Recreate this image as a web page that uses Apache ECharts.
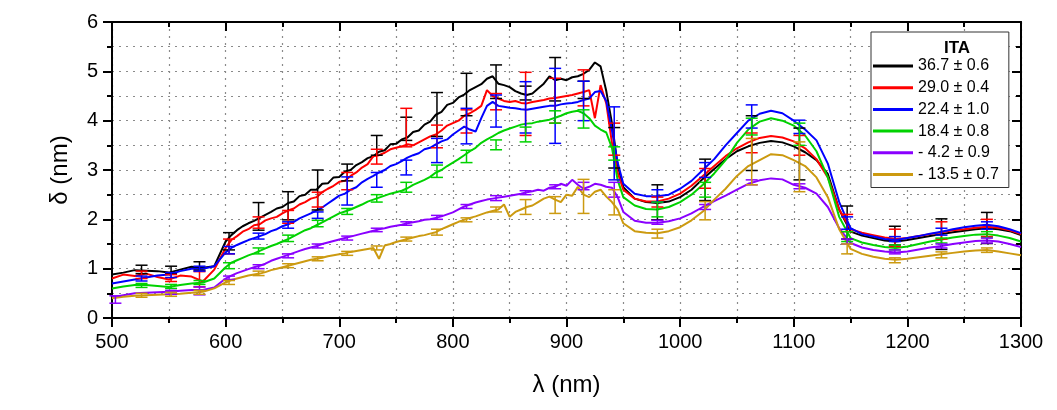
<!DOCTYPE html>
<html><head><meta charset="utf-8">
<script src="https://cdn.jsdelivr.net/npm/echarts@6/dist/echarts.min.js"></script>
<style>html,body{margin:0;padding:0;background:#fff}#c{width:1057px;height:410px}</style>
</head><body><div id="c"></div>
<script>
const wavelengths = [500,510,520,530,540,550,560,570,580,590,
600,605,610,615,620,625,630,635,640,645,650,
655,660,665,670,675,680,685,690,695,700,
705,710,715,720,725,730,735,740,745,750,
755,760,765,770,775,780,785,790,795,800,
805,810,815,820,825,830,835,840,845,850,
855,860,865,870,875,880,885,890,895,900,
905,910,915,920,925,930,935,940,945,950,
960,970,980,990,1000,1010,1020,1030,1040,1050,
1060,1070,1080,1090,1100,1110,1120,1130,1140,1150,
1160,1170,1180,1190,1200,1210,1220,1230,1240,1250,
1260,1270,1280,1290,1300];

const ita367 = [0.88,0.92,0.97,0.96,0.95,0.92,0.98,1.04,1.02,1.05,
1.55,1.68,1.78,1.86,1.92,1.97,2.03,2.09,2.15,2.22,2.25,
2.33,2.36,2.47,2.5,2.6,2.6,2.72,2.73,2.85,2.86,
2.97,3.0,3.1,3.16,3.24,3.28,3.37,3.4,3.52,3.53,
3.62,3.66,3.77,3.8,3.92,3.98,4.12,4.18,4.32,4.36,
4.47,4.53,4.62,4.68,4.74,4.85,4.9,4.75,4.72,4.68,
4.6,4.55,4.52,4.55,4.65,4.75,4.9,4.82,4.85,4.82,
4.88,4.9,4.95,5.03,5.18,5.1,4.6,3.95,3.1,2.65,
2.42,2.35,2.33,2.36,2.45,2.6,2.82,3.02,3.22,3.38,
3.48,3.55,3.59,3.56,3.48,3.36,3.2,2.92,2.2,1.75,
1.67,1.62,1.57,1.55,1.58,1.62,1.66,1.7,1.74,1.77,
1.8,1.82,1.8,1.76,1.68];

const ita290 = [0.8,0.88,0.85,0.9,0.83,0.78,0.86,0.84,0.74,0.98,
1.42,1.58,1.66,1.75,1.8,1.88,1.9,1.98,2.02,2.05,2.12,
2.18,2.22,2.3,2.35,2.42,2.45,2.55,2.62,2.68,2.76,
2.78,2.88,2.95,3.05,3.12,3.28,3.3,3.35,3.42,3.45,
3.48,3.52,3.5,3.56,3.62,3.68,3.72,3.8,3.9,3.95,
4.0,4.1,4.15,4.22,4.3,4.62,4.5,4.45,4.4,4.38,
4.4,4.36,4.35,4.38,4.4,4.42,4.45,4.46,4.48,4.5,
4.52,4.55,4.58,4.62,4.05,4.72,4.35,3.55,2.95,2.6,
2.42,2.36,2.36,2.42,2.52,2.68,2.88,3.08,3.28,3.44,
3.56,3.65,3.69,3.66,3.58,3.44,3.22,2.85,2.2,1.8,
1.73,1.68,1.63,1.6,1.62,1.66,1.7,1.74,1.78,1.8,
1.83,1.85,1.83,1.78,1.7];

const ita224 = [0.7,0.74,0.78,0.82,0.86,0.88,0.95,1.0,1.0,1.05,
1.33,1.42,1.48,1.53,1.58,1.62,1.66,1.7,1.76,1.8,1.86,
1.9,1.95,2.02,2.07,2.12,2.18,2.24,2.32,2.4,2.48,
2.52,2.6,2.65,2.75,2.82,2.88,2.95,3.0,3.08,3.12,
3.18,3.25,3.3,3.34,3.42,3.45,3.52,3.58,3.62,3.72,
3.8,3.88,3.82,3.78,4.05,4.3,4.38,4.3,4.28,4.26,
4.25,4.23,4.22,4.24,4.26,4.28,4.3,4.3,4.33,4.35,
4.36,4.38,4.42,4.45,4.58,4.6,4.4,3.8,3.15,2.72,
2.52,2.47,2.47,2.5,2.62,2.78,3.0,3.22,3.5,3.75,
4.0,4.14,4.2,4.15,4.0,3.82,3.6,3.13,2.35,1.82,
1.7,1.65,1.6,1.58,1.62,1.66,1.71,1.75,1.8,1.84,
1.87,1.89,1.86,1.8,1.72];

const ita184 = [0.6,0.64,0.67,0.67,0.65,0.63,0.67,0.7,0.72,0.8,
1.03,1.12,1.17,1.22,1.27,1.31,1.36,1.41,1.46,1.5,1.55,
1.6,1.66,1.72,1.78,1.82,1.88,1.94,2.0,2.06,2.12,
2.16,2.2,2.25,2.3,2.36,2.4,2.44,2.48,2.52,2.55,
2.58,2.63,2.7,2.75,2.8,2.86,2.95,3.0,3.08,3.15,
3.22,3.3,3.38,3.45,3.55,3.62,3.68,3.75,3.8,3.84,
3.88,3.92,3.94,3.95,3.98,4.0,4.02,4.06,4.1,4.15,
4.18,4.2,4.15,4.05,3.9,3.82,3.76,3.45,2.8,2.45,
2.28,2.21,2.2,2.25,2.35,2.5,2.7,2.93,3.2,3.55,
3.82,3.98,4.05,4.0,3.9,3.7,3.38,2.85,2.05,1.62,
1.53,1.48,1.44,1.42,1.45,1.5,1.55,1.59,1.63,1.66,
1.69,1.7,1.67,1.62,1.55];

const itaM42 = [0.42,0.46,0.5,0.51,0.52,0.53,0.55,0.57,0.57,0.62,
0.8,0.86,0.91,0.95,0.99,1.03,1.06,1.1,1.16,1.2,1.24,
1.28,1.32,1.36,1.4,1.43,1.46,1.5,1.53,1.56,1.59,
1.62,1.65,1.68,1.71,1.74,1.77,1.8,1.82,1.85,1.87,
1.89,1.92,1.94,1.96,1.99,2.0,2.03,2.06,2.1,2.14,
2.2,2.26,2.3,2.34,2.37,2.4,2.42,2.44,2.46,2.48,
2.5,2.52,2.55,2.57,2.6,2.58,2.64,2.66,2.72,2.68,
2.8,2.7,2.62,2.66,2.72,2.7,2.66,2.64,2.45,2.15,
1.97,1.93,1.93,1.96,2.02,2.12,2.25,2.37,2.48,2.6,
2.72,2.79,2.83,2.81,2.7,2.64,2.52,2.25,1.82,1.52,
1.43,1.38,1.35,1.33,1.35,1.39,1.43,1.46,1.5,1.53,
1.56,1.57,1.55,1.5,1.44];

const itaM135 = [0.4,0.43,0.45,0.46,0.47,0.48,0.49,0.51,0.53,0.6,
0.72,0.77,0.8,0.83,0.86,0.88,0.9,0.93,0.97,1.0,1.03,
1.06,1.09,1.12,1.15,1.18,1.2,1.22,1.25,1.27,1.29,
1.31,1.34,1.36,1.38,1.4,1.42,1.2,1.47,1.5,1.54,
1.57,1.6,1.63,1.66,1.68,1.71,1.74,1.8,1.85,1.9,
1.95,1.99,2.03,2.06,2.1,2.14,2.17,2.2,2.3,2.05,
2.15,2.2,2.25,2.28,2.35,2.42,2.46,2.4,2.35,2.5,
2.48,2.66,2.5,2.45,2.56,2.6,2.46,2.35,2.2,1.92,
1.76,1.73,1.72,1.76,1.84,1.98,2.16,2.4,2.62,2.88,
3.08,3.2,3.32,3.3,3.2,3.08,2.85,2.45,1.8,1.4,
1.3,1.24,1.2,1.18,1.2,1.23,1.26,1.29,1.32,1.35,
1.37,1.38,1.35,1.31,1.27];

// error bars: [wavelength, low, high]
const err367 = [[526,0.90,1.07],[552,0.90,1.05],[577,0.97,1.14],[603,1.38,1.73],[629,1.78,2.34],[655,1.99,2.56],[681,2.19,3.0],[707,2.78,3.12],[733,3.3,3.7],[759,3.6,4.07],[786,3.68,4.57],[812,4.1,4.96],[838,4.45,5.13],[864,4.42,4.7],[890,4.4,5.28],[915,4.45,4.8],[942,3.04,3.86],[980,1.99,2.7],[1022,2.38,3.22],[1063,2.99,4.1],[1105,2.8,3.85],[1147,1.6,2.27],[1189,1.48,1.86],[1230,1.39,2.01],[1270,1.51,2.14]];
const err290 = [[526,0.8,0.95],[552,0.74,0.88],[577,0.63,0.94],[603,1.3,1.6],[629,1.82,2.05],[655,1.92,2.18],[681,2.25,2.55],[707,2.6,2.95],[733,3.12,3.42],[759,3.47,4.25],[786,3.45,3.91],[812,3.75,4.22],[838,4.22,4.55],[864,3.7,4.98],[890,3.95,4.86],[915,4.3,5.03],[942,3.3,3.95],[980,2.25,2.45],[1022,2.63,3.03],[1063,3.35,3.75],[1105,3.3,3.7],[1147,1.75,2.1],[1189,1.45,1.8],[1230,1.6,1.95],[1270,1.65,2.0]];
const err224 = [[526,0.75,0.85],[552,0.82,0.92],[577,0.95,1.05],[603,1.3,1.45],[629,1.6,1.72],[655,1.82,1.95],[681,2.02,2.15],[707,2.29,2.86],[733,2.65,2.95],[759,2.9,3.2],[786,3.15,3.64],[812,3.53,4.25],[838,3.87,4.52],[864,3.75,4.79],[890,3.54,5.06],[915,4.0,4.8],[942,2.8,4.28],[980,2.35,2.6],[1022,2.85,3.15],[1063,3.85,4.32],[1105,3.74,4.01],[1147,1.8,2.05],[1189,1.55,1.65],[1230,1.68,1.82],[1270,1.8,1.95]];
const err184 = [[526,0.62,0.7],[552,0.6,0.68],[577,0.68,0.76],[603,1.0,1.12],[629,1.3,1.42],[655,1.55,1.68],[681,1.85,1.98],[707,2.1,2.22],[733,2.35,2.5],[759,2.55,2.75],[786,2.85,3.1],[812,3.15,3.4],[838,3.41,3.61],[864,3.57,3.87],[890,3.95,4.2],[915,3.85,4.22],[942,3.2,3.47],[980,2.05,2.35],[1022,2.45,2.75],[1063,3.71,4.05],[1105,3.5,3.95],[1147,1.55,1.75],[1189,1.38,1.48],[1230,1.52,1.62],[1270,1.63,1.75]];
const errM42 = [[503,0.3,0.45],[552,0.48,0.56],[577,0.47,0.63],[603,0.78,0.85],[629,1.0,1.08],[655,1.22,1.3],[681,1.42,1.5],[707,1.58,1.66],[733,1.75,1.82],[759,1.88,1.95],[786,2.0,2.08],[812,2.22,2.3],[838,2.38,2.48],[864,2.5,2.58],[890,2.62,2.7],[915,2.6,2.75],[942,2.45,2.75],[980,1.9,1.98],[1022,2.2,2.3],[1063,2.7,2.8],[1105,2.62,2.72],[1147,1.5,1.6],[1189,1.3,1.38],[1230,1.42,1.5],[1270,1.52,1.62]];
const errM135 = [[526,0.42,0.5],[552,0.44,0.52],[577,0.48,0.56],[603,0.68,0.76],[629,0.86,0.95],[655,1.02,1.1],[681,1.16,1.24],[707,1.27,1.35],[733,1.38,1.46],[759,1.56,1.64],[786,1.68,1.8],[812,1.95,2.03],[838,2.15,2.25],[864,2.1,2.4],[890,2.12,2.46],[915,2.12,2.81],[942,2.09,2.6],[980,1.62,1.8],[1022,1.99,2.36],[1063,2.7,3.64],[1105,2.56,3.57],[1147,1.3,1.5],[1189,1.12,1.22],[1230,1.22,1.34],[1270,1.33,1.42]];

const seriesNames = ['36.7 \u00b1 0.6','29.0 \u00b1 0.4','22.4 \u00b1 1.0','18.4 \u00b1 0.8','- 4.2 \u00b1 0.9','- 13.5 \u00b1 0.7'];
const seriesColors = ['#000000','#ff0000','#0000ff','#00d200','#8a00ff','#cc9a10'];
const seriesValues = [ita367, ita290, ita224, ita184, itaM42, itaM135];
const seriesErrors = [err367, err290, err224, err184, errM42, errM135];

const FONT = 'Liberation Sans, Arial, sans-serif';
const chart = echarts.init(document.getElementById('c'), null, {renderer:'canvas'});

function errRender(params, api) {
  const x = api.value(0), lo = api.value(1), hi = api.value(2);
  const pLo = api.coord([x, lo]), pHi = api.coord([x, hi]);
  const hw = 6;
  const style = {stroke: api.visual('color'), lineWidth: 1.5, fill: null};
  return {type:'group', children:[
    {type:'line', shape:{x1:pLo[0],y1:pLo[1],x2:pHi[0],y2:pHi[1]}, style: style},
    {type:'line', shape:{x1:pLo[0]-hw,y1:pLo[1],x2:pLo[0]+hw,y2:pLo[1]}, style: style},
    {type:'line', shape:{x1:pHi[0]-hw,y1:pHi[1],x2:pHi[0]+hw,y2:pHi[1]}, style: style}
  ]};
}

const series = [];
seriesNames.forEach(function(name, i){
  series.push({
    name: name, type:'line', xAxisIndex:0, yAxisIndex:0,
    data: wavelengths.map(function(w, k){ return [w, seriesValues[i][k]]; }),
    showSymbol:false, symbol:'none', lineStyle:{color: seriesColors[i], width:2},
    itemStyle:{color: seriesColors[i]}, z: 3, animation:false
  });
});
seriesNames.forEach(function(name, i){
  series.push({
    name: name, type:'custom', xAxisIndex:0, yAxisIndex:0,
    data: seriesErrors[i], encode:{x:0, y:[1,2]},
    renderItem: errRender, itemStyle:{color: seriesColors[i]}, z: 4, animation:false
  });
});

const axisLineStyle = {color:'#000', width:2};
const gridStyle = {color:'#8a8a8a', width:1.2, type:[2,5]};
const plainNum = function(v){ return String(v); };

chart.setOption({
  animation:false,
  backgroundColor:'#fff',
  grid:{left:112, right:36, top:22, bottom:92},
  title:{text:'ITA', left:952, top:35, textAlign:'center',
    textStyle:{fontFamily:FONT, fontSize:17, fontWeight:'bold', color:'#000'}},
  legend:{data: seriesNames, orient:'vertical', left:871, top:32,
    itemWidth:40, itemHeight:3, icon:'rect', itemGap:5.7,
    padding:[26,10,5,2], backgroundColor:'#fff', borderColor:'#333', borderWidth:1,
    selectedMode:false,
    textStyle:{fontFamily:FONT, fontSize:16, lineHeight:16, color:'#000'}},
  xAxis:[
    {type:'value', min:500, max:1300, interval:100, position:'bottom',
     axisLine:{show:true, onZero:false, lineStyle:axisLineStyle},
     axisTick:{show:true, inside:false, length:9, lineStyle:axisLineStyle},
     minorTick:{show:true, splitNumber:2, length:5, lineStyle:axisLineStyle},
     axisLabel:{fontFamily:FONT, fontSize:20, color:'#000', margin:14, formatter: plainNum},
     splitLine:{show:true, lineStyle:gridStyle},
     minorSplitLine:{show:true, lineStyle:gridStyle},
     name:'\u03bb (nm)', nameLocation:'middle', nameGap:55,
     nameTextStyle:{fontFamily:FONT, fontSize:24, color:'#000'}},
    {type:'value', min:500, max:1300, interval:100, position:'top',
     axisLine:{show:true, onZero:false, lineStyle:axisLineStyle},
     axisTick:{show:true, inside:true, length:9, lineStyle:axisLineStyle},
     minorTick:{show:true, splitNumber:2, length:5, lineStyle:axisLineStyle},
     axisLabel:{show:false}, splitLine:{show:false}}
  ],
  yAxis:[
    {type:'value', min:0, max:6, interval:1, position:'left',
     axisLine:{show:true, onZero:false, lineStyle:axisLineStyle},
     axisTick:{show:true, inside:false, length:9, lineStyle:axisLineStyle},
     minorTick:{show:true, splitNumber:2, length:5, lineStyle:axisLineStyle},
     axisLabel:{fontFamily:FONT, fontSize:20, color:'#000', margin:14, formatter: plainNum},
     splitLine:{show:true, lineStyle:gridStyle},
     minorSplitLine:{show:true, lineStyle:gridStyle},
     name:'\u03b4 (nm)', nameLocation:'middle', nameGap:40, nameRotate:90,
     nameTextStyle:{fontFamily:FONT, fontSize:24, color:'#000'}},
    {type:'value', min:0, max:6, interval:1, position:'right',
     axisLine:{show:true, onZero:false, lineStyle:axisLineStyle},
     axisTick:{show:true, inside:true, length:9, lineStyle:axisLineStyle},
     minorTick:{show:true, splitNumber:2, length:5, lineStyle:axisLineStyle},
     axisLabel:{show:false}, splitLine:{show:false}}
  ],
  series: series
});
</script></body></html>
